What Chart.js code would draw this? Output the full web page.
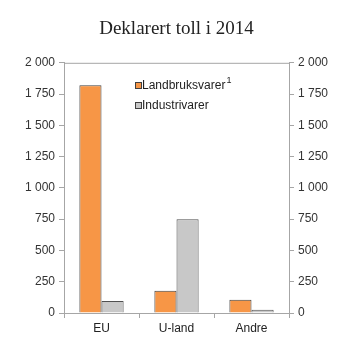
<!DOCTYPE html>
<html>
<head>
<meta charset="utf-8">
<script src="https://cdn.jsdelivr.net/npm/chart.js@4"></script>
<style>
  html, body { margin: 0; padding: 0; background: #fff; }
  #wrap { width: 353px; height: 353px; }
</style>
</head>
<body>
<div id="wrap"><canvas id="chart" width="353" height="353"></canvas></div>
<script>
// data
const categories = ['EU', 'U-land', 'Andre'];
const landbruk = [1820, 178, 105];
const industri = [95, 750, 25];
const seriesNames = ['Landbruksvarer', 'Industrivarer'];
const yTicks = [0, 250, 500, 750, 1000, 1250, 1500, 1750, 2000];

const ORANGE = '#F79646';
const GREY = '#C8C8C8';
const AXIS = '#A6A6A6';

const fmt = v => String(v).replace(/\B(?=(\d{3})+(?!\d))/g, ' ');

// legend inside plot area + top border line
const extras = {
  id: 'extras',
  afterDraw(chart) {
    const c = chart.ctx, a = chart.chartArea;
    c.save();
    c.strokeStyle = AXIS;
    c.lineWidth = 1;
    c.beginPath();
    c.moveTo(a.left, a.top + 0.5);
    c.lineTo(a.right, a.top + 0.5);
    c.stroke();

    const items = [
      { text: seriesNames[0], color: ORANGE, sup: '1', y: 86 },
      { text: seriesNames[1], color: GREY, y: 106 }
    ];
    c.font = '12px "Liberation Sans", Arial, sans-serif';
    c.textBaseline = 'middle';
    items.forEach(it => {
      c.fillStyle = it.color;
      c.fillRect(135.5, it.y - 3.5, 6, 6);
      c.strokeStyle = '#404040';
      c.strokeRect(135.5, it.y - 3.5, 6, 6);
      c.fillStyle = '#222';
      c.fillText(it.text, 142, it.y);
      if (it.sup) {
        const w = c.measureText(it.text).width;
        c.font = '9px "Liberation Sans", Arial, sans-serif';
        c.fillText(it.sup, 142 + w + 1, it.y - 5);
        c.font = '12px "Liberation Sans", Arial, sans-serif';
      }
    });
    c.restore();
  }
};

const yAxis = (pos) => ({
  position: pos,
  min: 0,
  max: 2000,
  afterBuildTicks: axis => { axis.ticks = yTicks.map(v => ({ value: v })); },
  afterFit: axis => { axis.width = 64; },
  grid: { drawOnChartArea: false, tickLength: 5, tickColor: AXIS },
  border: { color: AXIS, width: 1 },
  ticks: {
    color: '#333',
    padding: 4,
    font: { family: '"Liberation Sans", Arial, sans-serif', size: 12 },
    callback: v => fmt(v)
  }
});

new Chart(document.getElementById('chart'), {
  type: 'bar',
  data: {
    labels: categories,
    datasets: [
      { label: seriesNames[0], data: landbruk, backgroundColor: ORANGE, borderColor: '#404040', borderWidth: 1, yAxisID: 'y' },
      { label: seriesNames[1], data: industri, backgroundColor: GREY, borderColor: '#505050', borderWidth: 1, yAxisID: 'y' }
    ]
  },
  options: {
    responsive: false,
    animation: false,
    devicePixelRatio: 1,
    layout: { padding: { left: 0, right: 0, top: 0, bottom: 0 } },
    plugins: {
      legend: { display: false },
      tooltip: { enabled: false },
      title: {
        display: true,
        text: 'Deklarert toll i 2014',
        color: '#222',
        font: { family: '"Liberation Serif", "Times New Roman", serif', size: 19, weight: 'normal' },
        padding: { top: 18, bottom: 22 }
      }
    },
    datasets: { bar: { categoryPercentage: 0.59, barPercentage: 1 } },
    scales: {
      x: {
        afterFit: axis => { axis.height = 40; },
        grid: { drawOnChartArea: false, offset: true, tickLength: 5, tickColor: AXIS },
        border: { color: AXIS, width: 1 },
        ticks: {
          color: '#222',
          padding: 3,
          font: { family: '"Liberation Sans", Arial, sans-serif', size: 12 }
        }
      },
      y: yAxis('left'),
      y2: yAxis('right')
    }
  },
  plugins: [extras]
});
</script>
</body>
</html>
